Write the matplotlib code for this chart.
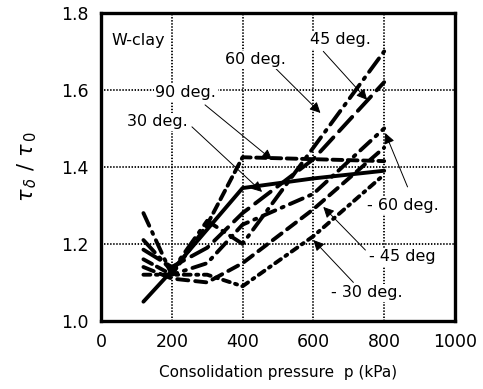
import matplotlib
matplotlib.use("Agg")
import matplotlib.pyplot as plt

plt.rcParams.update({"font.family": "DejaVu Sans", "lines.scale_dashes": False})

# consolidation pressure (kPa)
p_all = [120, 200, 300, 400, 600, 800]
p_30 = [120, 200, 400, 600, 800]

# strength ratio tau_delta / tau_0 for each inclination
r_30 = [1.05, 1.13, 1.345, 1.37, 1.39]
r_90 = [1.16, 1.12, 1.25, 1.425, 1.42, 1.415]
r_60 = [1.21, 1.13, 1.26, 1.20, 1.45, 1.70]
r_45 = [1.185, 1.14, 1.19, 1.28, 1.42, 1.62]
r_m60 = [1.28, 1.12, 1.15, 1.25, 1.33, 1.50]
r_m45 = [1.14, 1.11, 1.10, 1.15, 1.29, 1.45]
r_m30 = [1.12, 1.12, 1.12, 1.09, 1.22, 1.38]

fig = plt.figure(figsize=(4.83, 3.89), dpi=100)
ax = fig.add_axes([0.209, 0.175, 0.733, 0.792])

kw = dict(color="k", lw=2.8, dash_capstyle="round", solid_capstyle="round")
ax.plot(p_30, r_30, "-", **kw)
ax.plot(p_all, r_90, dashes=(7, 4), **kw)
ax.plot(p_all, r_60, dashes=(12, 5, 1.5, 5), **kw)
ax.plot(p_all, r_45, dashes=(14, 6), **kw)
ax.plot(p_all, r_m60, dashes=(10, 5, 1.5, 5), **kw)
ax.plot(p_all, r_m45, dashes=(8, 5), **kw)
ax.plot(p_all, r_m30, dashes=(5, 4, 1.5, 4), **kw)

ax.set_xlim(0, 1000)
ax.set_ylim(1.0, 1.8)
ax.set_xticks([0, 200, 400, 600, 800, 1000])
ax.set_yticks([1.0, 1.2, 1.4, 1.6, 1.8])
ax.set_yticklabels(["1.0", "1.2", "1.4", "1.6", "1.8"])
ax.tick_params(length=0, labelsize=12.5, pad=9)
ax.grid(True, color="k", ls=(0, (1, 1.2)), lw=1.3)
for s in ax.spines.values():
    s.set_linewidth(2.4)

ax.set_xlabel("Consolidation pressure  p (kPa)", fontsize=11, labelpad=10)
ax.set_ylabel(r"$\tau_{\,\delta}\ /\ \tau_{\,0}$", fontsize=15, labelpad=16)

ax.text(30, 1.727, "W-clay", fontsize=11.5, va="center", ha="left")

arrow = dict(arrowstyle="-|>", color="k", lw=0.7, mutation_scale=16,
             shrinkA=0, shrinkB=0)
box = dict(facecolor="white", edgecolor="none", pad=1.0)
notes = [
    ("45 deg.", (676, 1.73), (628, 1.700), (752, 1.574)),
    ("60 deg.", (436, 1.678), (492, 1.657), (620, 1.540)),
    ("90 deg.", (240, 1.592), (294, 1.561), (484, 1.418)),
    ("30 deg.", (158, 1.517), (257, 1.504), (455, 1.335)),
    ("- 60 deg.", (854, 1.30), (866, 1.348), (803, 1.488)),
    ("- 45 deg", (851, 1.166), (747, 1.184), (628, 1.296)),
    ("- 30 deg.", (750, 1.073), (713, 1.100), (600, 1.210)),
]
for label, xy_text, tail, tip in notes:
    ax.annotate("", xy=tip, xytext=tail, arrowprops=arrow)
    ax.text(*xy_text, label, fontsize=11.5, ha="center", va="center", bbox=box)

fig.savefig("out.png", dpi=100)
